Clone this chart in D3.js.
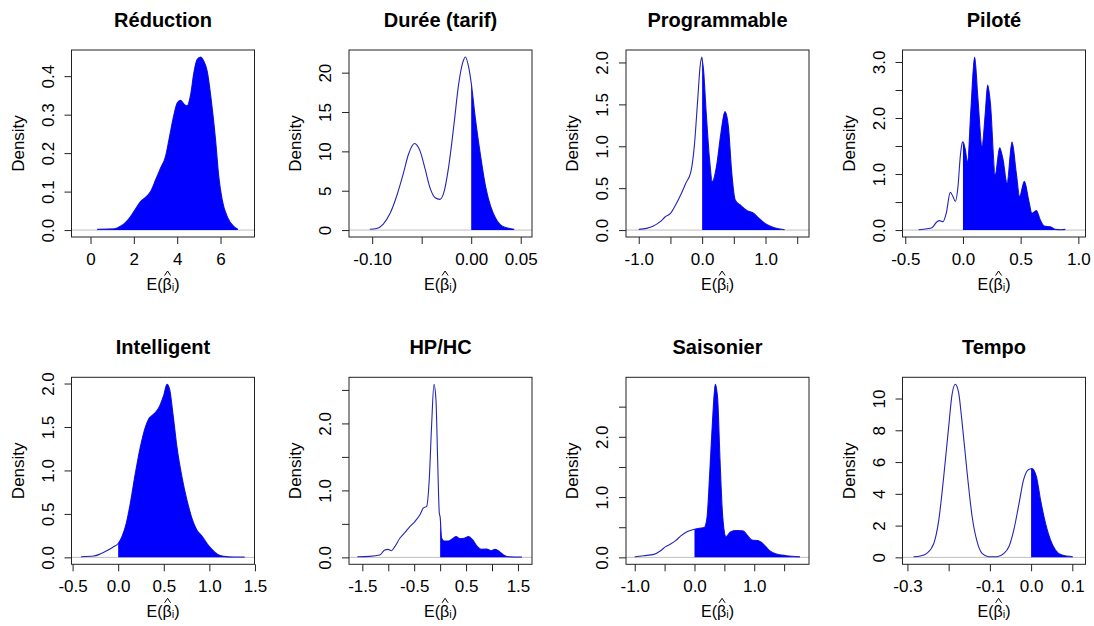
<!DOCTYPE html>
<html><head><meta charset="utf-8">
<script src="https://cdn.jsdelivr.net/npm/d3@7"></script>
<style>
body{margin:0;background:#fff}
text{font-family:"Liberation Sans",Arial,sans-serif;fill:#000}
</style>
</head><body>
<svg id="chart" width="1094" height="626"></svg>
<script>
// ---------- data ----------
const titles = ["Réduction","Durée (tarif)","Programmable","Piloté","Intelligent","HP/HC","Saisonier","Tempo"];

const reduction = [[0.31,0.002],[1.08,0.003],[1.38,0.010],[1.62,0.020],[1.82,0.033],[2.0,0.048],[2.31,0.074],[2.54,0.085],[2.77,0.100],[3.0,0.130],[3.23,0.161],[3.46,0.191],[3.62,0.235],[3.85,0.300],[4.0,0.330],[4.15,0.337],[4.34,0.326],[4.46,0.323],[4.62,0.352],[4.77,0.409],[4.92,0.443],[5.08,0.450],[5.23,0.439],[5.385,0.413],[5.57,0.339],[5.77,0.235],[5.92,0.139],[6.08,0.078],[6.31,0.035],[6.62,0.009],[6.8,0.002]];

const duree = [[-0.1024,0.1],[-0.0956,0.2],[-0.0888,0.77],[-0.082,2.1],[-0.0753,4.3],[-0.0685,7.2],[-0.0634,9.6],[-0.0573,11.0],[-0.0515,10.0],[-0.0464,7.7],[-0.0414,5.3],[-0.0363,4.1],[-0.0318,3.9],[-0.0278,4.7],[-0.0227,8.1],[-0.0176,13.2],[-0.0125,18.7],[-0.0085,21.3],[-0.0058,22.0],[-0.0024,20.6],[0,18.7],[0.0044,14.0],[0.0095,9.4],[0.0146,5.5],[0.0197,3.0],[0.0247,1.5],[0.0315,0.5],[0.0434,0.1]];

const programmable = [[-1.0,0.008],[-0.876,0.02],[-0.769,0.048],[-0.661,0.1],[-0.581,0.159],[-0.5,0.199],[-0.419,0.299],[-0.339,0.418],[-0.258,0.558],[-0.177,0.697],[-0.124,0.996],[-0.07,1.554],[-0.032,1.952],[-0.005,2.066],[0,2.04],[0.022,1.912],[0.065,1.394],[0.118,0.837],[0.161,0.578],[0.226,0.757],[0.296,1.155],[0.36,1.414],[0.414,1.235],[0.468,0.677],[0.522,0.359],[0.602,0.299],[0.71,0.231],[0.817,0.199],[0.898,0.139],[1.005,0.072],[1.14,0.028],[1.301,0.004]];

const pilote = [[-0.384,0.006],[-0.312,0.024],[-0.269,0.042],[-0.225,0.15],[-0.202,0.168],[-0.173,0.15],[-0.145,0.3],[-0.11,0.672],[-0.087,0.6],[-0.066,0.51],[-0.043,0.78],[-0.023,1.32],[-0.003,1.572],[0,1.575],[0.02,1.44],[0.04,1.21],[0.069,2.16],[0.101,3.09],[0.13,2.34],[0.165,1.5],[0.194,2.1],[0.214,2.59],[0.237,2.28],[0.28,0.99],[0.318,1.47],[0.347,1.26],[0.382,0.84],[0.425,1.57],[0.462,1.02],[0.491,0.6],[0.532,0.87],[0.569,0.54],[0.598,0.3],[0.636,0.35],[0.67,0.18],[0.705,0.07],[0.757,0.06],[0.8,0.012],[0.85,0.006],[0.887,0.012]];

const intelligent = [[-0.407,0.008],[-0.271,0.015],[-0.198,0.038],[-0.125,0.076],[-0.051,0.122],[0,0.16],[0.04,0.236],[0.088,0.389],[0.132,0.617],[0.187,0.96],[0.242,1.265],[0.297,1.495],[0.333,1.59],[0.37,1.63],[0.407,1.665],[0.454,1.74],[0.498,1.859],[0.535,1.992],[0.564,1.935],[0.601,1.65],[0.645,1.265],[0.7,0.922],[0.755,0.655],[0.81,0.446],[0.864,0.312],[0.919,0.244],[0.974,0.16],[1.029,0.091],[1.084,0.038],[1.158,0.011],[1.267,0.004],[1.388,0.004]];

const hphc = [[-1.597,0.01],[-1.358,0.015],[-1.165,0.035],[-1.068,0.11],[-1.003,0.12],[-0.939,0.1],[-0.874,0.16],[-0.777,0.285],[-0.681,0.37],[-0.584,0.46],[-0.487,0.535],[-0.39,0.635],[-0.326,0.735],[-0.261,0.76],[-0.21,1.16],[-0.165,1.96],[-0.119,2.585],[-0.081,2.36],[-0.048,1.46],[-0.016,0.66],[0,0.6],[0.029,0.285],[0.074,0.245],[0.158,0.245],[0.223,0.27],[0.306,0.31],[0.384,0.28],[0.461,0.285],[0.545,0.31],[0.629,0.26],[0.719,0.16],[0.803,0.12],[0.9,0.125],[0.977,0.1],[1.061,0.12],[1.145,0.085],[1.223,0.035],[1.319,0.01],[1.577,0.005]];

const saisonier = [[-1.0,0.011],[-0.848,0.028],[-0.68,0.05],[-0.567,0.111],[-0.483,0.178],[-0.399,0.222],[-0.315,0.278],[-0.23,0.356],[-0.118,0.428],[0,0.467],[0.079,0.483],[0.163,0.494],[0.208,0.65],[0.258,1.456],[0.303,2.289],[0.348,2.872],[0.388,2.622],[0.427,1.622],[0.472,0.678],[0.528,0.344],[0.601,0.422],[0.697,0.444],[0.809,0.439],[0.893,0.356],[0.961,0.289],[1.062,0.278],[1.163,0.211],[1.258,0.111],[1.371,0.056],[1.539,0.028],[1.764,0.011]];

const tempo = [[-0.285,0.042],[-0.269,0.084],[-0.253,0.252],[-0.236,0.881],[-0.224,2.348],[-0.212,5.073],[-0.2,8.218],[-0.192,10.21],[-0.184,10.9],[-0.176,10.4],[-0.168,8.637],[-0.155,5.283],[-0.143,2.558],[-0.131,0.985],[-0.119,0.252],[-0.103,0.042],[-0.083,0.042],[-0.066,0.252],[-0.054,0.67],[-0.042,1.719],[-0.03,3.291],[-0.018,4.906],[-0.006,5.535],[0,5.58],[0.002,5.597],[0.013,5.073],[0.023,3.606],[0.035,2.138],[0.047,1.09],[0.059,0.461],[0.075,0.147],[0.101,0.042]];

const densities = [reduction, duree, programmable, pilote, intelligent, hphc, saisonier, tempo];

const xLimits = [[-0.877,7.568],[-0.1234,0.0614],[-1.201,1.686],[-0.524,1.062],[-0.512,1.495],[-1.757,1.771],[-1.146,1.916],[-0.312,0.132]];

const xTicks = [[0,2,4,6],[-0.10,-0.05,0,0.05],[-1,-0.5,0,0.5,1,1.5],[-0.5,0,0.5,1],[-0.5,0,0.5,1,1.5],[-1.5,-1,-0.5,0,0.5,1,1.5],[-1,-0.5,0,0.5,1,1.5],[-0.3,-0.2,-0.1,0,0.1]];
const xTickLabels = [["0","2","4","6"],["-0.10","","0.00","0.05"],["-1.0","","0.0","","1.0",""],["-0.5","0.0","0.5","1.0"],["-0.5","0.0","0.5","1.0","1.5"],["-1.5","","-0.5","","0.5","","1.5"],["-1.0","","0.0","","1.0",""],["-0.3","","-0.1","0.0","0.1"]];

const yTicks = [[0,0.1,0.2,0.3,0.4],[0,5,10,15,20],[0,0.5,1,1.5,2],[0,0.5,1,1.5,2,2.5,3],[0,0.5,1,1.5,2],[0,0.5,1,1.5,2,2.5],[0,0.5,1,1.5,2,2.5],[0,2,4,6,8,10]];
const yTickLabels = [["0.0","0.1","0.2","0.3","0.4"],["0","5","10","15","20"],["0.0","0.5","1.0","1.5","2.0"],["0.0","","1.0","","2.0","","3.0"],["0.0","0.5","1.0","1.5","2.0"],["0.0","","1.0","","2.0",""],["0.0","","1.0","","2.0",""],["0","2","4","6","8","10"]];

const xAxisLabel = "E(βᵢ)";
const yAxisLabel = "Density";

// ---------- layout ----------
const svg = d3.select("#chart");
const colLeft = [71.5, 349, 626, 902.5], boxW = 183;
const rowTop = [50, 377.3], boxH = 187;

densities.forEach((dens, i) => {
  const r = Math.floor(i / 4), c = i % 4;
  const L = colLeft[c], T = rowTop[r], R = L + boxW, B = T + boxH;
  const ymax = d3.max(dens, d => d[1]);
  const x = d3.scaleLinear().domain(xLimits[i]).range([L, R]);
  const y = d3.scaleLinear().domain([-0.04 * ymax, 1.04 * ymax]).range([B, T]);
  const g = svg.append("g");

  // zero line
  g.append("line").attr("x1", L).attr("x2", R).attr("y1", y(0)).attr("y2", y(0))
    .attr("stroke", "#bebebe").attr("stroke-width", 1);

  // density line
  const line = d3.line().x(d => x(d[0])).y(d => y(d[1])).curve(d3.curveMonotoneX);
  g.append("path").attr("d", line(dens)).attr("fill", "none")
    .attr("stroke", "#2424b4").attr("stroke-width", 1.1);

  // filled positive part
  const pos = dens.filter(d => d[0] >= 0);
  const area = d3.area().x(d => x(d[0])).y0(y(0)).y1(d => y(d[1])).curve(d3.curveMonotoneX);
  g.append("path").attr("d", area(pos)).attr("fill", "#0000ff");

  // box
  g.append("rect").attr("x", L).attr("y", T).attr("width", boxW).attr("height", boxH)
    .attr("fill", "none").attr("stroke", "#222").attr("stroke-width", 1);

  // x axis
  const xa = d3.axisBottom(x).tickValues(xTicks[i]).tickSize(7).tickPadding(9)
    .tickFormat((d, k) => xTickLabels[i][k]);
  const gx = g.append("g").attr("transform", `translate(0,${B})`).call(xa);
  gx.select(".domain").remove();
  gx.selectAll(".tick line").attr("stroke", "#222");
  gx.selectAll(".tick text").style("font-size", "17px");

  // y axis
  const ya = d3.axisLeft(y).tickValues(yTicks[i]).tickSize(7)
    .tickFormat((d, k) => yTickLabels[i][k]);
  const gy = g.append("g").attr("transform", `translate(${L},0)`).call(ya);
  gy.select(".domain").remove();
  gy.selectAll(".tick line").attr("stroke", "#222");
  gy.selectAll(".tick text").style("font-size", "17px")
    .attr("x", 0).attr("dy", 0).attr("text-anchor", "middle")
    .attr("transform", "translate(-18,0) rotate(-90)");
  svg.selectAll(".tick text").attr("fill", "#000");
  svg.selectAll("g").attr("font-family", null).attr("font-size", null);

  // title
  g.append("text").attr("x", (L + R) / 2).attr("y", T - 23.5).attr("text-anchor", "middle")
    .style("font-size", "20px").style("font-weight", "bold").text(titles[i]);

  // y label
  g.append("text").attr("transform", `translate(${L - 48},${(T + B) / 2}) rotate(-90)`)
    .attr("text-anchor", "middle").style("font-size", "17px").text(yAxisLabel);

  // x label E(beta-hat_i): one text run, the hat drawn as a small accent stroke over the beta
  const base = B + 52.5;
  const xl = g.append("text").attr("x", (L + R) / 2).attr("y", base)
    .attr("text-anchor", "middle").style("font-size", "16px").text(xAxisLabel);
  const ext = xl.node().getExtentOfChar(2);
  const hx = ext.x + ext.width / 2 + 0.5;
  g.append("path")
    .attr("d", `M${hx - 3},${base - 14} L${hx},${base - 18.5} L${hx + 3},${base - 14}`)
    .attr("fill", "none").attr("stroke", "#000").attr("stroke-width", 1);
});
</script>
</body></html>
